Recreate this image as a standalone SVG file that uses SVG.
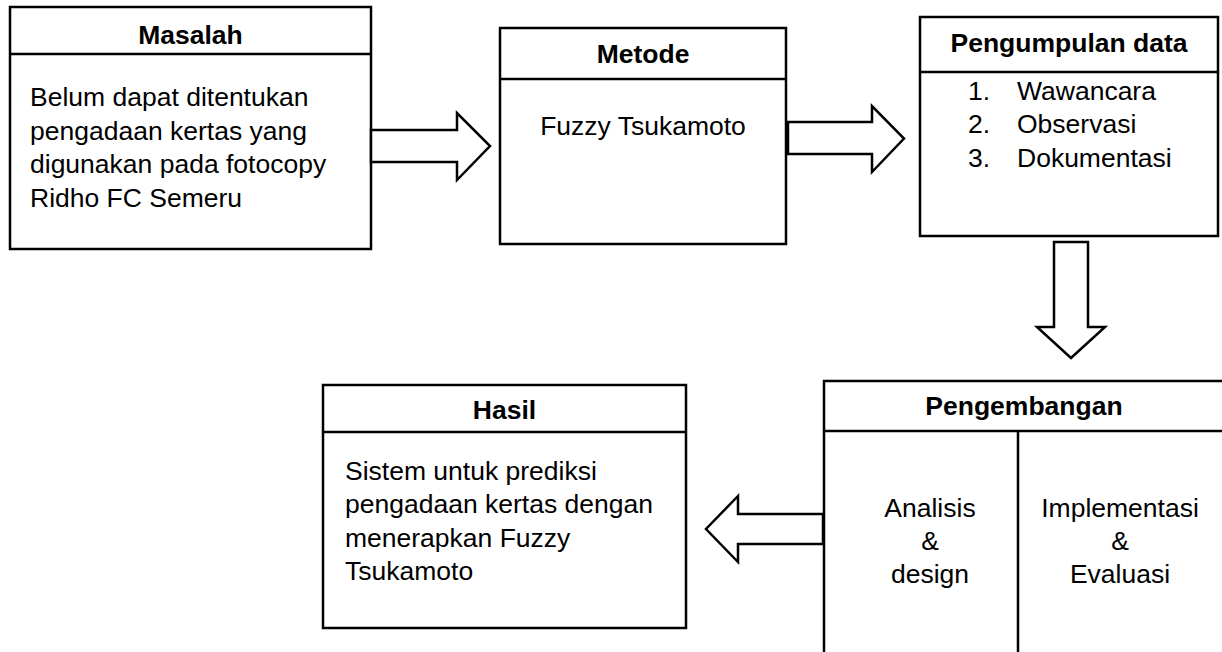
<svg xmlns="http://www.w3.org/2000/svg" width="1222" height="652" viewBox="0 0 1222 652">
<style>
.box{fill:#fff;stroke:#000;stroke-width:2.5}
.ln{stroke:#000;stroke-width:2.5;fill:none}
.arr{fill:#fff;stroke:#000;stroke-width:2.5;stroke-linejoin:miter}
text{font-family:"Liberation Sans",Arial,sans-serif;font-size:26.5px;fill:#000}
.h{font-weight:bold;text-anchor:middle}
.c{text-anchor:middle}
</style>
<rect width="1222" height="652" fill="#fff"/>
<g id="masalah">
<rect class="box" x="10" y="7" width="361" height="242"/>
<line class="ln" x1="10" y1="54" x2="371" y2="54"/>
<text class="h" x="190.5" y="43.5">Masalah</text>
<text x="30" y="106">Belum dapat ditentukan</text>
<text x="30" y="140">pengadaan kertas yang</text>
<text x="30" y="173">digunakan pada fotocopy</text>
<text x="30" y="207">Ridho FC Semeru</text>
</g>
<g id="metode">
<rect class="box" x="500" y="28" width="286" height="216"/>
<line class="ln" x1="500" y1="79" x2="786" y2="79"/>
<text class="h" x="643" y="63">Metode</text>
<text class="c" x="643" y="135">Fuzzy Tsukamoto</text>
</g>
<g id="pengumpulan">
<rect class="box" x="920" y="17" width="298" height="219"/>
<line class="ln" x1="920" y1="72" x2="1218" y2="72"/>
<text class="h" x="1069" y="52">Pengumpulan data</text>
<text x="968" y="100">1.</text><text x="1017" y="100">Wawancara</text>
<text x="968" y="133">2.</text><text x="1017" y="133">Observasi</text>
<text x="968" y="167">3.</text><text x="1017" y="167">Dokumentasi</text>
</g>
<g id="pengembangan">
<rect class="box" x="824" y="381" width="402" height="290"/>
<line class="ln" x1="824" y1="431" x2="1226" y2="431"/>
<line class="ln" x1="1018" y1="431" x2="1018" y2="660"/>
<text class="h" x="1024" y="415">Pengembangan</text>
<text class="c" x="930" y="517">Analisis</text>
<text class="c" x="930" y="550">&amp;</text>
<text class="c" x="930" y="583">design</text>
<text class="c" x="1120" y="517">Implementasi</text>
<text class="c" x="1120" y="550">&amp;</text>
<text class="c" x="1120" y="583">Evaluasi</text>
</g>
<g id="hasil">
<rect class="box" x="323" y="385" width="363" height="243"/>
<line class="ln" x1="323" y1="432" x2="686" y2="432"/>
<text class="h" x="504.5" y="419">Hasil</text>
<text x="345" y="480">Sistem untuk prediksi</text>
<text x="345" y="513">pengadaan kertas dengan</text>
<text x="345" y="547">menerapkan Fuzzy</text>
<text x="345" y="580">Tsukamoto</text>
</g>
<g id="connectors">
<polygon class="arr" points="371,130 457,130 457,113 490,146 457,180 457,162 371,162"/>
<polygon class="arr" points="788,122 872,122 872,106 904,138.5 872,172 872,154 788,154"/>
<polygon class="arr" points="1054,242 1088,242 1088,327 1105,327 1071,358 1037,327 1054,327"/>
<polygon class="arr" points="823,514 738,514 738,496 706,529 738,562 738,544 823,544"/>
</g>
</svg>
